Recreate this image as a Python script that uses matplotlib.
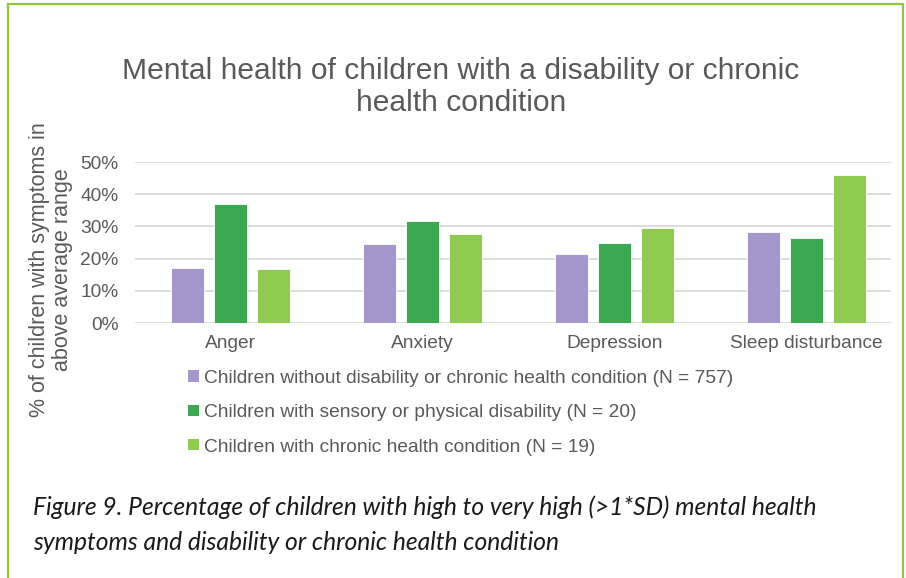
import numpy as np
import matplotlib.pyplot as plt
from matplotlib.patches import Patch, Rectangle

categories = ['Anger', 'Anxiety', 'Depression', 'Sleep disturbance']
series_names = [
    'Children without disability or chronic health condition (N = 757)',
    'Children with sensory or physical disability (N = 20)',
    'Children with chronic health condition (N = 19)',
]
no_condition = [17.1, 24.4, 21.5, 28.4]
disability = [37.0, 31.6, 24.7, 26.4]
chronic = [16.8, 27.6, 29.6, 46.0]
y_ticks = [0, 10, 20, 30, 40, 50]

COLORS = ['#A597CB', '#3DA852', '#8FCB4F']
TEXT = '#595959'
FONT = 'Liberation Sans'

fig = plt.figure(figsize=(9.06, 5.78), dpi=100)
ax = fig.add_axes([135 / 906, 1 - 323 / 578, 756 / 906, 161 / 578])

x = np.arange(len(categories))
step = 0.224
width = 0.172
for i, (vals, color) in enumerate(zip([no_condition, disability, chronic], COLORS)):
    ax.bar(x + (i - 1) * step, vals, width, color=color, edgecolor='white',
           linewidth=0.6, zorder=3)

# plot area is cut a little short on the right, so the last group sits near the edge
ax.set_xlim(-0.5, 3.44)
ax.set_ylim(0, 50)
ax.set_yticks(y_ticks)
ax.set_yticklabels([f'{t}%' for t in y_ticks], fontsize=13.8, color=TEXT, family=FONT)
ax.set_xticks(x)
ax.set_xticklabels(categories, fontsize=13.8, color=TEXT, family=FONT)
ax.tick_params(axis='both', length=0)
ax.tick_params(axis='y', pad=12)
ax.tick_params(axis='x', pad=9)
ax.yaxis.grid(True, color='#D9D9D9', linewidth=1.3, zorder=0)
for s in ax.spines.values():
    s.set_visible(False)

fig.text(461 / 906, 1 - 87 / 578,
         'Mental health of children with a disability or chronic\nhealth condition',
         ha='center', va='center', fontsize=21.6, color=TEXT, family=FONT,
         linespacing=1.2)

fig.text(51 / 906, 1 - 270 / 578,
         '% of children with symptoms in\nabove average range',
         rotation=90, ha='center', va='center', multialignment='center',
         fontsize=15.5, color=TEXT, family=FONT, linespacing=1.1)

handles = [Patch(facecolor=c, edgecolor='none') for c in COLORS]
leg = fig.legend(handles, series_names, loc='upper left',
                 bbox_to_anchor=(188 / 906, 1 - 370 / 578), frameon=False,
                 handlelength=0.55, handleheight=0.55,
                 handletextpad=0.3, labelspacing=0.9, borderpad=0,
                 borderaxespad=0, prop={'family': FONT, 'size': 13.8})
for t in leg.get_texts():
    t.set_color(TEXT)

fig.text(33 / 906, 1 - 525 / 578,
         'Figure 9. Percentage of children with high to very high (>1*SD) mental health\n'
         'symptoms and disability or chronic health condition',
         ha='left', va='center', fontsize=17.7, style='italic', color='#1A1A1A',
         family='Lato', linespacing=1.62)

# green frame around the chart box, open at the bottom
fig.add_artist(Rectangle((8 / 906, -0.05), 895 / 906, 1.05 - 4 / 578,
                         transform=fig.transFigure, fill=False,
                         edgecolor='#8DC63F', linewidth=1.6))

fig.savefig('out.png', dpi=100, facecolor='white')
